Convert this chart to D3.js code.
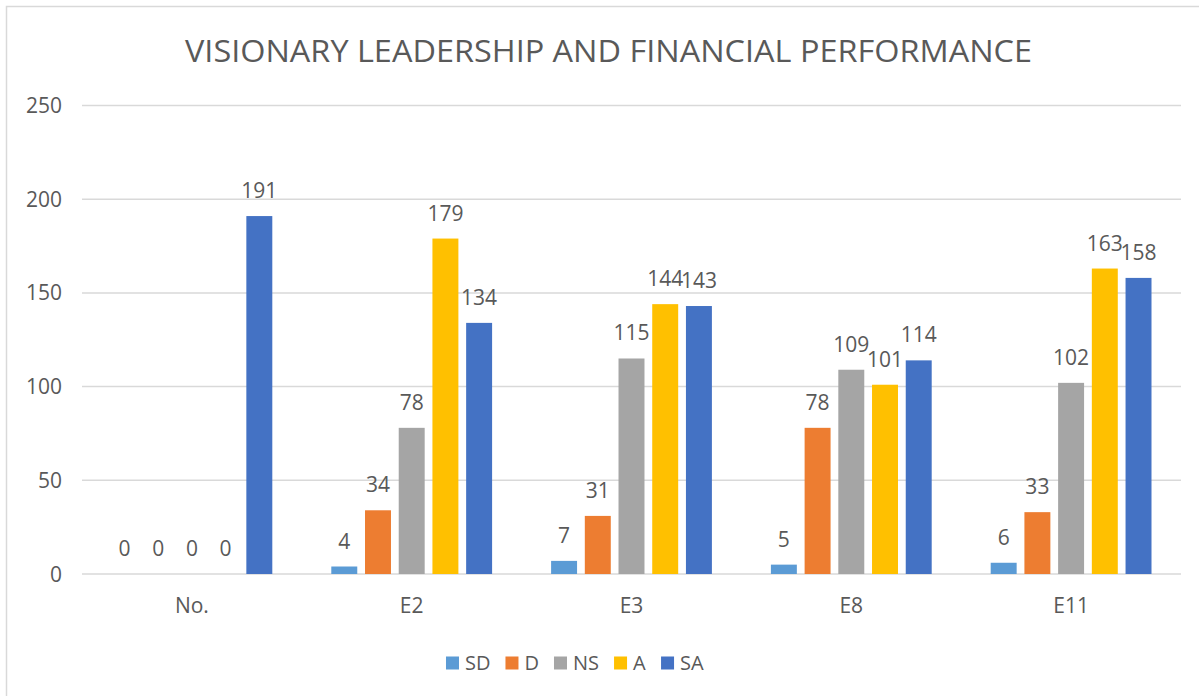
<!DOCTYPE html>
<html>
<head>
<meta charset="utf-8">
<script src="https://cdn.jsdelivr.net/npm/d3@7"></script>
<style>
  body { margin: 0; background: #fff; }
  text { font-family: "Open Sans", "Liberation Sans", sans-serif; fill: #595959; }
</style>
</head>
<body>
<div id="chart"></div>
<script>
const categories = ["No.", "E2", "E3", "E8", "E11"];
const seriesNames = ["SD", "D", "NS", "A", "SA"];
const SD = [0, 4, 7, 5, 6];
const D  = [0, 34, 31, 78, 33];
const NS = [0, 78, 115, 109, 102];
const A  = [0, 179, 144, 101, 163];
const SA = [191, 134, 143, 114, 158];
const yTicks = [0, 50, 100, 150, 200, 250];
const colors = ["#5B9BD5", "#ED7D31", "#A5A5A5", "#FFC000", "#4472C4"];

const seriesValues = [SD, D, NS, A, SA];
const data = categories.map((c, i) => ({
    cat: c,
    values: seriesNames.map((s, j) => ({key: s, value: seriesValues[j][i], idx: j}))
}));

const W = 1199, H = 696;
const plot = {left: 82, right: 1181, top: 105.5, bottom: 574};

const svg = d3.select("#chart").append("svg")
    .attr("width", W)
    .attr("height", H);

// chart frame (only top and left edges visible)
svg.append("path")
    .attr("d", `M6.5,${H} L6.5,6.5 L${W},6.5`)
    .attr("fill", "none")
    .attr("stroke", "#d9d9d9")
    .attr("stroke-width", 1.5);

svg.append("text")
    .attr("x", 608.5)
    .attr("y", 62)
    .attr("text-anchor", "middle")
    .attr("font-size", 31)
    .attr("textLength", 847)
    .attr("lengthAdjust", "spacingAndGlyphs")
    .text("VISIONARY LEADERSHIP AND FINANCIAL PERFORMANCE");

const x0 = d3.scaleBand()
    .domain(categories)
    .range([plot.left, plot.right]);

const outer = 29.5;
const x1 = d3.scaleBand()
    .domain(seriesNames)
    .range([outer, x0.bandwidth() - outer])
    .paddingInner(0.23);

const y = d3.scaleLinear()
    .domain([0, 250])
    .range([plot.bottom, plot.top]);

// gridlines
svg.append("g")
    .selectAll("line")
    .data(yTicks)
    .enter()
    .append("line")
    .attr("x1", plot.left)
    .attr("x2", plot.right)
    .attr("y1", d => y(d))
    .attr("y2", d => y(d))
    .attr("stroke", "#d9d9d9")
    .attr("stroke-width", 1.5);

// y tick labels
svg.append("g")
    .selectAll("text")
    .data(yTicks)
    .enter()
    .append("text")
    .attr("x", 62)
    .attr("y", d => y(d) + 7.5)
    .attr("text-anchor", "end")
    .attr("font-size", 21)
    .text(d => d);

// x category labels
svg.append("g")
    .selectAll("text")
    .data(categories)
    .enter()
    .append("text")
    .attr("x", d => x0(d) + x0.bandwidth() / 2)
    .attr("y", 613)
    .attr("text-anchor", "middle")
    .attr("font-size", 21)
    .text(d => d);

const groups = svg.append("g")
    .selectAll("g")
    .data(data)
    .enter()
    .append("g")
    .attr("transform", d => `translate(${x0(d.cat)},0)`);

groups.selectAll("rect")
    .data(d => d.values)
    .enter()
    .append("rect")
    .attr("x", d => x1(d.key))
    .attr("y", d => y(d.value))
    .attr("width", x1.bandwidth())
    .attr("height", d => y(0) - y(d.value))
    .attr("fill", d => colors[d.idx]);

groups.selectAll("text")
    .data(d => d.values)
    .enter()
    .append("text")
    .attr("x", d => x1(d.key) + x1.bandwidth() / 2)
    .attr("y", d => y(d.value) - 18)
    .attr("text-anchor", "middle")
    .attr("font-size", 21)
    .text(d => d.value);

// legend
const legend = svg.append("g");
const items = legend.selectAll("g")
    .data(seriesNames)
    .enter()
    .append("g");
items.append("rect")
    .attr("width", 13)
    .attr("height", 13)
    .attr("y", 656.5)
    .attr("fill", (d, i) => colors[i]);
items.append("text")
    .attr("x", 19)
    .attr("y", 670)
    .attr("font-size", 20)
    .text(d => d);

let cx = 0;
const offsets = [];
items.each(function () {
    offsets.push(cx);
    cx += this.getBBox().width + 15;
});
const total = cx - 15;
const startX = 575 - total / 2;
items.attr("transform", (d, i) => `translate(${startX + offsets[i]},0)`);
</script>
</body>
</html>
